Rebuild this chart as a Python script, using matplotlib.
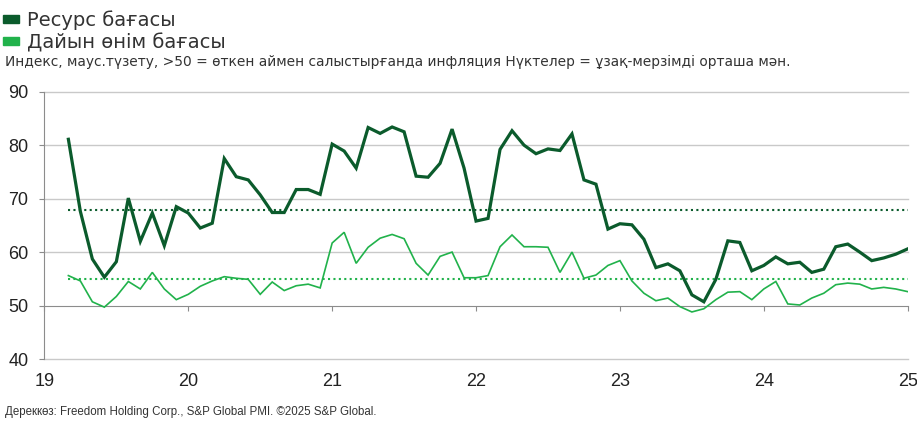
import numpy as np
import matplotlib.pyplot as plt
import matplotlib.patches as mpatches

# monthly data, Mar 2019 .. Jan 2025
start_year = 2019
start_month = 3
resource_price = [81.1, 67.6, 58.7, 55.3, 58.2, 70.1, 62.0, 67.3, 61.2, 68.5,
                  67.3, 64.5, 65.4, 77.5, 74.1, 73.5, 70.7, 67.4, 67.4, 71.7, 71.7, 70.8,
                  80.2, 78.9, 75.7, 83.3, 82.2, 83.4, 82.5, 74.2, 74.0, 76.6, 83.0, 75.7,
                  65.8, 66.3, 79.2, 82.7, 80.0, 78.4, 79.3, 79.0, 82.1, 73.5, 72.7, 64.3,
                  65.3, 65.1, 62.4, 57.1, 57.8, 56.5, 52.0, 50.7, 54.9, 62.1, 61.8, 56.5,
                  57.5, 59.1, 57.8, 58.1, 56.2, 56.8, 61.0, 61.5, 60.0, 58.4, 58.9, 59.6,
                  60.6]
output_price = [55.6, 54.6, 50.7, 49.7, 51.7, 54.5, 53.1, 56.2, 53.1, 51.1,
                52.1, 53.6, 54.6, 55.4, 55.1, 54.9, 52.1, 54.4, 52.8, 53.7, 54.0, 53.3,
                61.7, 63.7, 57.9, 60.9, 62.6, 63.3, 62.5, 57.9, 55.7, 59.2, 60.0, 55.2,
                55.2, 55.6, 61.0, 63.2, 61.0, 61.0, 60.9, 56.2, 60.0, 55.1, 55.7, 57.5,
                58.4, 54.6, 52.3, 50.9, 51.4, 49.8, 48.8, 49.4, 51.1, 52.5, 52.6, 51.1,
                53.1, 54.5, 50.3, 50.1, 51.4, 52.3, 53.9, 54.2, 54.0, 53.1, 53.4, 53.1,
                52.6]
resource_avg = 67.8
output_avg = 55.0
year_ticks = [19, 20, 21, 22, 23, 24, 25]
y_ticks = [40, 50, 60, 70, 80, 90]

legend_labels = ['Ресурс бағасы', 'Дайын өнім бағасы']
subtitle = 'Индекс, маус.түзету, >50 = өткен аймен салыстырғанда инфляция Нүктелер = ұзақ-мерзімді орташа мән.'
source = 'Дереккөз: Freedom Holding Corp., S&P Global PMI. ©2025 S&P Global.'

dark = '#0b5b2c'
light = '#21b24b'
text_fam = ['DejaVu Sans']
narrow_fam = ['Liberation Sans Narrow', 'Liberation Sans', 'DejaVu Sans']

n = len(resource_price)
x = np.array([(start_year - 2000) + (start_month - 1 + i) / 12 for i in range(n)])

fig = plt.figure(figsize=(9.17, 4.24), dpi=100)
ax = fig.add_axes([44.4 / 917, 1 - 359 / 424, (907.7 - 44.4) / 917, (359 - 91.7) / 424])

# grid
for v in y_ticks:
    if v != 50:
        ax.axhline(v, color='#c9c9c9', lw=1.0, zorder=0, clip_on=False)

ax.plot([x[0], x[-1]], [resource_avg] * 2, color=dark, lw=1.5, ls=(0, (1, 1.6)), zorder=2)
ax.plot([x[0], x[-1]], [output_avg] * 2, color=light, lw=1.5, ls=(0, (1, 1.6)), zorder=2)
ax.plot(x, output_price, color=light, lw=1.2, zorder=3, solid_joinstyle='miter')
ax.plot(x, resource_price, color=dark, lw=2.3, zorder=4, solid_joinstyle='miter')

ax.set_xlim(19, 25)
ax.set_ylim(40, 90)
ax.set_xticks(year_ticks)
ax.set_yticks(y_ticks)
ax.set_xticklabels([str(t) for t in year_ticks])

for s in ['top', 'right']:
    ax.spines[s].set_visible(False)
ax.spines['bottom'].set_position(('data', 50))
ax.spines['bottom'].set_color('#8c8c8c')
ax.spines['left'].set_color('#8c8c8c')
ax.spines['bottom'].set_zorder(1)

ax.tick_params(axis='x', length=3.5, color='#8c8c8c', pad=45, labelsize=13,
               labelcolor='#222222', labelfontfamily='Liberation Sans')
ax.tick_params(axis='y', length=3.5, color='#8c8c8c', pad=8, labelsize=13,
               labelcolor='#222222', labelfontfamily='Liberation Sans')

# legend
handles = [mpatches.Patch(color=dark), mpatches.Patch(color=light)]
fig.legend(handles, legend_labels, loc='upper left', bbox_to_anchor=(3 / 917, 1 - 10 / 424),
           frameon=False, handlelength=0.8, handleheight=0.26,
           handletextpad=0.45, labelspacing=0.18, borderpad=0, borderaxespad=0,
           prop={'family': text_fam, 'size': 14}, labelcolor='#333333')

sub = fig.text(5 / 917, 1 - 62 / 424, subtitle, fontsize=10, family=text_fam, color='#333333', va='center')
fig.text(5 / 917, 1 - 412 / 424, source, fontsize=8.3, family=narrow_fam, color='#333333', va='center')

# fit subtitle width to the reference
renderer = fig.canvas.get_renderer()
w = sub.get_window_extent(renderer).width
sub.set_fontsize(sub.get_fontsize() * 785 / w)

fig.savefig('out.png', dpi=100)
